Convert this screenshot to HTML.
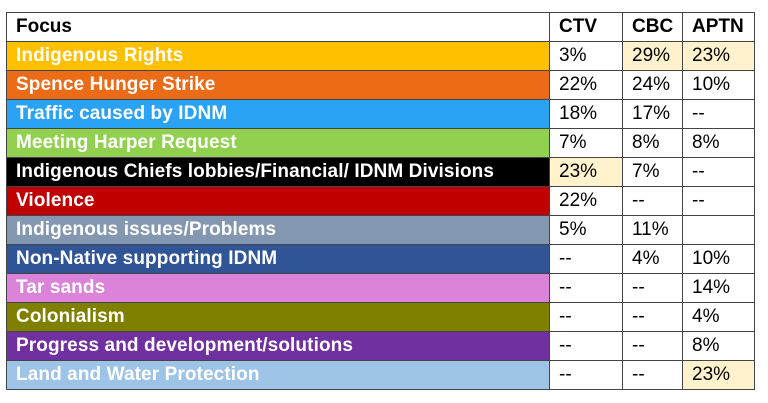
<!DOCTYPE html>
<html><head><meta charset="utf-8"><style>
body{margin:0;width:768px;height:403px;background:#fff;overflow:hidden;font-family:"Liberation Sans",sans-serif}
#t{position:absolute;left:6px;top:12px;border-collapse:collapse;table-layout:fixed}
#t td{border:1px solid #444;height:28px;padding:0 0 0 9px;font-size:19px;color:#000;white-space:nowrap;overflow:hidden}
#t td.f{color:#fff;font-weight:bold;letter-spacing:0.1px}
#t tr.h td{font-weight:bold;color:#000}
.hl{background:#fff2cc}
</style></head><body>
<table id="t">
<colgroup><col style="width:543px"><col style="width:73px"><col style="width:60px"><col style="width:72px"></colgroup>
<tr class="h"><td>Focus</td><td>CTV</td><td>CBC</td><td>APTN</td></tr>
<tr><td class="f" style="background:#ffc000">Indigenous Rights</td><td>3%</td><td class="hl">29%</td><td class="hl">23%</td></tr>
<tr><td class="f" style="background:#ec6b17">Spence Hunger Strike</td><td>22%</td><td>24%</td><td>10%</td></tr>
<tr><td class="f" style="background:#2aa3f5">Traffic caused by IDNM</td><td>18%</td><td>17%</td><td>--</td></tr>
<tr><td class="f" style="background:#92d050">Meeting Harper Request</td><td>7%</td><td>8%</td><td>8%</td></tr>
<tr><td class="f" style="background:#000">Indigenous Chiefs lobbies/Financial/ IDNM Divisions</td><td class="hl">23%</td><td>7%</td><td>--</td></tr>
<tr><td class="f" style="background:#c00000">Violence</td><td>22%</td><td>--</td><td>--</td></tr>
<tr><td class="f" style="background:#8497b0">Indigenous issues/Problems</td><td>5%</td><td>11%</td><td></td></tr>
<tr><td class="f" style="background:#2f5597">Non-Native supporting IDNM</td><td>--</td><td>4%</td><td>10%</td></tr>
<tr><td class="f" style="background:#da83d8">Tar sands</td><td>--</td><td>--</td><td>14%</td></tr>
<tr><td class="f" style="background:#808000">Colonialism</td><td>--</td><td>--</td><td>4%</td></tr>
<tr><td class="f" style="background:#7030a0">Progress and development/solutions</td><td>--</td><td>--</td><td>8%</td></tr>
<tr><td class="f" style="background:#9dc3e6">Land and Water Protection</td><td>--</td><td>--</td><td class="hl">23%</td></tr>
</table>
</body></html>
